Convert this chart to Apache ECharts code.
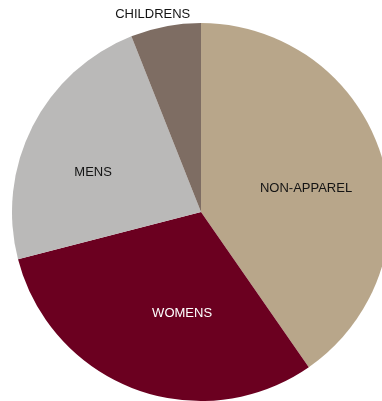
<!DOCTYPE html>
<html>
<head>
<meta charset="utf-8">
<script src="https://cdn.jsdelivr.net/npm/echarts@6/dist/echarts.min.js"></script>
<style>
  html, body { margin: 0; padding: 0; background: #fff; }
  #chart { width: 382px; height: 401px; }
</style>
</head>
<body>
<div id="chart"></div>
<script>
// Sales mix by department (share of total, %)
const categories = ['NON-APPAREL', 'WOMENS', 'MENS', 'CHILDRENS'];
const shares = [40.3, 30.6, 23.0, 6.0];

// Presentation settings per department
const sliceColors = ['#b8a68a', '#6b0020', '#bab9b8', '#7e6d63'];
const labelColors = ['#141414', '#ffffff', '#141414', '#141414'];
const labelOffsets = [[12, 6], [15, 10], [-21, 5], [-30, -102]];

const chart = echarts.init(document.getElementById('chart'), null, { renderer: 'canvas' });

chart.setOption({
  animation: false,
  backgroundColor: '#ffffff',
  series: [{
    type: 'pie',
    center: [201, 212],
    radius: 189,
    startAngle: 90,
    clockwise: true,
    avoidLabelOverlap: false,
    silent: true,
    itemStyle: { borderWidth: 0 },
    label: {
      show: true,
      position: 'inside',
      fontFamily: '"Liberation Sans", Arial, sans-serif',
      fontSize: 13,
      formatter: '{b}'
    },
    labelLine: { show: false },
    data: categories.map((name, i) => ({
      name: name,
      value: shares[i],
      itemStyle: { color: sliceColors[i] },
      label: { color: labelColors[i], offset: labelOffsets[i] }
    }))
  }]
});
</script>
</body>
</html>
